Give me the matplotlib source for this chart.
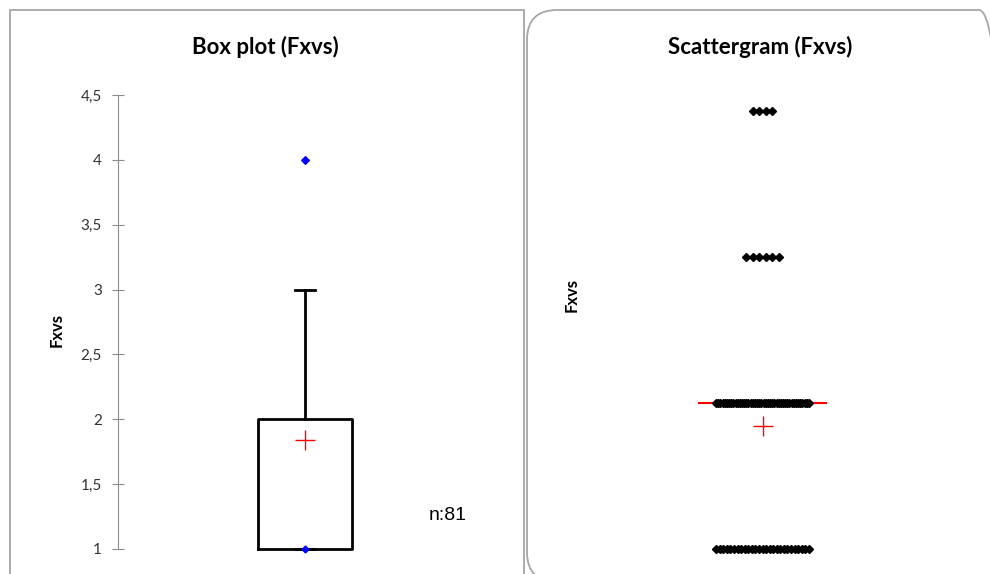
import numpy as np
import matplotlib
matplotlib.use("Agg")
import matplotlib.pyplot as plt
from matplotlib.patches import Rectangle, FancyBboxPatch
from matplotlib.transforms import IdentityTransform
from matplotlib.ticker import FuncFormatter

# data: distinct values of Fxvs and how often each occurs (n = 81)
values = [1, 2, 3, 4]
counts = [27, 44, 6, 4]
yticks = [1, 1.5, 2, 2.5, 3, 3.5, 4, 4.5]

data = np.repeat(values, counts)
n = len(data)
mean = data.mean()
median = np.median(data)

W, H = 990, 574
fig = plt.figure(figsize=(W / 100, H / 100), dpi=100)
plt.rcParams['font.family'] = ['Lato', 'DejaVu Sans']


def px(x, y):
    # pixel (from top-left) -> figure fraction
    return x / W, 1 - y / H


# panel frames
fig.add_artist(Rectangle((10, -10), 514, H, transform=IdentityTransform(),
                         fill=False, edgecolor='#a6a6a6', lw=1.3))
fig.add_artist(FancyBboxPatch((527, -8), 482, H - 10 + 8,
                              boxstyle='round,pad=0,rounding_size=30',
                              transform=IdentityTransform(),
                              fill=False, edgecolor='#a6a6a6', lw=1.3))

# ---- box plot ----
ax = fig.add_axes([118 / W, 25 / H, 374 / W, 454 / H])
ax.set_xlim(0, 1)
ax.set_ylim(1, 4.5)
bp = ax.boxplot(data, positions=[0.5], widths=0.249, whis=1.5, showmeans=True,
                capwidths=0.052,
                boxprops=dict(color='black', lw=2),
                whiskerprops=dict(color='black', lw=2),
                capprops=dict(color='black', lw=2),
                medianprops=dict(color='black', lw=0),
                meanprops=dict(marker='+', markeredgecolor='red', markersize=14,
                               markeredgewidth=1),
                flierprops=dict(marker='D', markerfacecolor='blue',
                                markeredgecolor='blue', markersize=3.5))
for k in bp:
    for a in bp[k]:
        a.set_clip_on(False)
ax.plot([0.5], [data.min()], marker='D', color='blue', ms=3.5, clip_on=False)

for s in ['top', 'right', 'bottom']:
    ax.spines[s].set_visible(False)
ax.spines['left'].set_color('#8c8c8c')
ax.set_xticks([])
ax.set_yticks(yticks)
ax.yaxis.set_major_formatter(FuncFormatter(lambda v, p: ('%g' % v).replace('.', ',')))
ax.tick_params(axis='y', direction='inout', length=9, color='#8c8c8c',
               labelsize=11, labelcolor='#333333', pad=7)
ax.patch.set_visible(False)

fig.text(*px(265, 47), 'Box plot (Fxvs)', ha='center', va='center',
         fontsize=16, fontweight='bold')
fig.text(*px(57, 330), 'Fxvs', ha='center', va='center', rotation=90,
         fontsize=12, fontweight='bold')
fig.text(*px(448, 515), 'n:%d' % n, ha='center', va='center',
         fontsize=14, family='Liberation Sans')

# ---- scattergram ----
ax2 = fig.add_axes([600 / W, 25 / H, 325 / W, 438 / H])
ax2.set_xlim(-1, 1)
ax2.set_ylim(1, 4)
ax2.axis('off')
step, maxw = 0.041, 0.57
for v, c in zip(values, counts):
    s = min(step, maxw / max(c - 1, 1))
    xs = (np.arange(c) - (c - 1) / 2) * s
    ax2.plot(xs, np.full(c, v), ls='none', marker='D', color='black', ms=4.2,
             clip_on=False)
ax2.plot([-0.39, 0.39], [median, median], color='red', lw=1.5, zorder=1,
         clip_on=False)
ax2.plot([0], [mean], marker='+', color='red', ms=14, mew=1, clip_on=False)

fig.text(*px(760, 47), 'Scattergram (Fxvs)', ha='center', va='center',
         fontsize=16, fontweight='bold')
fig.text(*px(572, 295), 'Fxvs', ha='center', va='center', rotation=90,
         fontsize=12, fontweight='bold')

fig.savefig('out.png', dpi=100)
